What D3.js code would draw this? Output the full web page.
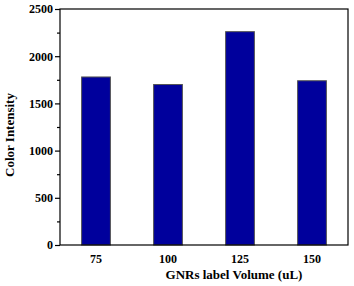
<!DOCTYPE html>
<html>
<head>
<meta charset="utf-8">
<script src="https://cdn.jsdelivr.net/npm/d3@7"></script>
<style>
  body { margin: 0; background: #fff; }
  text { font-family: "Liberation Serif", "Times New Roman", serif; font-weight: bold; fill: #000; }
  .domain { display: none; }
</style>
</head>
<body>
<div id="chart"></div>
<script>
// data
var volumes = ["75", "100", "125", "150"];
var intensity = [1780, 1700, 2260, 1740];
var yTicks = [0, 500, 1000, 1500, 2000, 2500];
var yMinor = [250, 750, 1250, 1750, 2250];

var margin = {top: 9, right: 6, bottom: 41, left: 60};
var width = 354 - margin.left - margin.right;
var height = 286 - margin.top - margin.bottom;

var svg = d3.select("#chart")
  .append("svg")
    .attr("width", 354)
    .attr("height", 286)
  .append("g")
    .attr("transform", "translate(" + margin.left + "," + margin.top + ")");

var x = d3.scaleBand()
    .domain(volumes)
    .range([0, width])
    .paddingInner(0.6)
    .paddingOuter(0.3);

var y = d3.scaleLinear()
    .domain([0, 2500])
    .range([height, 0]);

// bars
svg.selectAll("rect.bar")
    .data(intensity)
    .enter()
    .append("rect")
      .attr("class", "bar")
      .attr("x", function(d, i) { return x(volumes[i]); })
      .attr("y", function(d) { return y(d); })
      .attr("width", x.bandwidth())
      .attr("height", function(d) { return height - y(d); })
      .style("fill", "#00009c")
      .style("stroke", "#555")
      .style("stroke-width", 1);

// frame
svg.append("rect")
    .attr("x", 0)
    .attr("y", 0)
    .attr("width", width)
    .attr("height", height)
    .style("fill", "none")
    .style("stroke", "#000")
    .style("stroke-width", 1.2);

// y axis
var yAxis = svg.append("g")
    .call(d3.axisLeft(y).tickValues(yTicks).tickSize(5).tickPadding(2).tickFormat(d3.format("d")));
yAxis.selectAll("text").style("font-size", "12px");
yAxis.selectAll("line").style("stroke-width", 1.2);

svg.append("g")
    .call(d3.axisLeft(y).tickValues(yMinor).tickSize(3).tickFormat(""))
    .selectAll("line").style("stroke-width", 1.2);

// x axis (labels only)
var xAxis = svg.append("g")
    .attr("transform", "translate(0," + height + ")")
    .call(d3.axisBottom(x).tickSize(0).tickPadding(9));
xAxis.selectAll("text").style("font-size", "12px");

// axis titles
svg.append("text")
    .attr("x", 234 - margin.left)
    .attr("y", height + 34)
    .attr("text-anchor", "middle")
    .style("font-size", "13px")
    .text("GNRs label Volume (uL)");

svg.append("text")
    .attr("transform", "rotate(-90)")
    .attr("x", -126)
    .attr("y", -46)
    .attr("text-anchor", "middle")
    .style("font-size", "13px")
    .text("Color Intensity");
</script>
</body>
</html>
